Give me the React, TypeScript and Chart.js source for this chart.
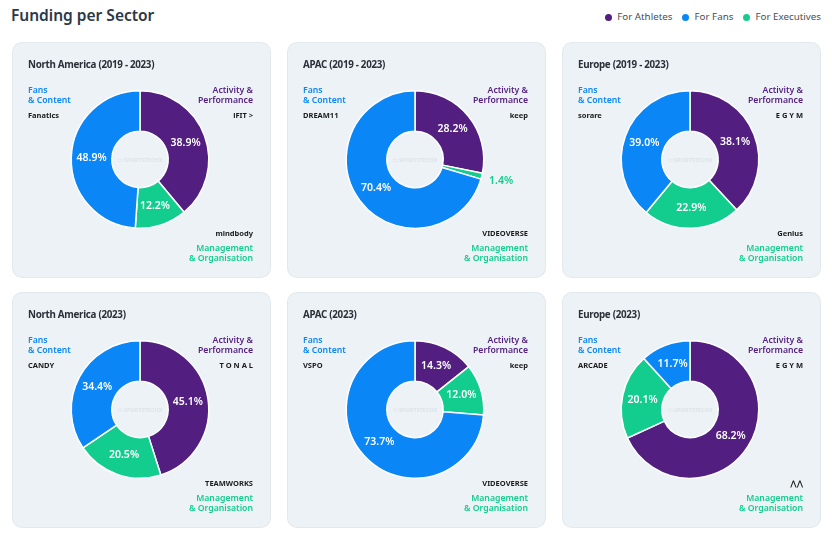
import React, { useEffect, useRef } from "react";
import { Chart, registerables } from "chart.js";

Chart.register(...registerables);

// ---- data ----
const pageTitle = "Funding per Sector";
const legendNames = ["For Athletes", "For Fans", "For Executives"];
const legendColors = ["#521F80", "#0A86F7", "#12CD8E"];

const regionTitles = [
  "North America (2019 - 2023)",
  "APAC (2019 - 2023)",
  "Europe (2019 - 2023)",
  "North America (2023)",
  "APAC (2023)",
  "Europe (2023)",
];
// dataset order (clockwise from top): Athletes, Executives, Fans
const athletesShare = [38.9, 28.2, 38.1, 45.1, 14.3, 68.2];
const executivesShare = [12.2, 1.4, 22.9, 20.5, 12.0, 20.1];
const fansShare = [48.9, 70.4, 39.0, 34.4, 73.7, 11.7];

const fansLogos = ["Fanatics", "DREAM11", "sorare", "CANDY", "VSPO", "ARCADE"];
const athletesLogos = ["iFIT >", "keep", "E G Y M", "T O N A L", "keep", "E G Y M"];
const executivesLogos = ["mindbody", "VIDEOVERSE", "Genius", "TEAMWORKS", "VIDEOVERSE", "⋀⋀"];

const PURPLE = "#521F80";
const BLUE = "#0A86F7";
const GREEN = "#12CD8E";
const CARD_BG = "#EDF2F6";
const FONT = "'Noto Sans', 'DejaVu Sans', sans-serif";

const CARD_W = 257;
const CARD_H = 234;
const colX = [13, 288, 563];
const rowY = [43, 293];

const labelPlugin = {
  id: "sliceLabels",
  afterDatasetsDraw(chart: any) {
    const ctx = chart.ctx;
    const meta = chart.getDatasetMeta(0);
    const data = chart.data.datasets[0].data as number[];
    const colors = chart.data.datasets[0].backgroundColor as string[];
    ctx.save();
    ctx.font = `600 10.5px ${FONT}`;
    ctx.textAlign = "center";
    ctx.textBaseline = "middle";
    meta.data.forEach((arc: any, i: number) => {
      const v = data[i];
      const text = v.toFixed(1) + "%";
      if (v < 5) {
        const p = arc.getProps(["x", "y", "startAngle", "endAngle", "outerRadius"], true);
        const a = (p.startAngle + p.endAngle) / 2;
        const r = p.outerRadius + 20;
        ctx.fillStyle = colors[i];
        ctx.fillText(text, p.x + Math.cos(a) * r, p.y + Math.sin(a) * r);
      } else {
        const pos = arc.tooltipPosition(true);
        ctx.fillStyle = "#ffffff";
        ctx.fillText(text, pos.x, pos.y);
      }
    });
    ctx.restore();
  },
};

function Donut({ idx }: { idx: number }) {
  const ref = useRef<HTMLCanvasElement | null>(null);
  useEffect(() => {
    if (!ref.current) return;
    const chart = new Chart(ref.current, {
      type: "doughnut",
      data: {
        labels: ["For Athletes", "For Executives", "For Fans"],
        datasets: [
          {
            data: [athletesShare[idx], executivesShare[idx], fansShare[idx]],
            backgroundColor: [PURPLE, GREEN, BLUE],
            borderColor: "#ffffff",
            borderWidth: 1.5,
            hoverOffset: 0,
          },
        ],
      },
      options: {
        responsive: false,
        animation: false,
        cutout: "41%",
        layout: { padding: { left: 57.5, right: 60.5, top: 47, bottom: 48 } },
        plugins: { legend: { display: false }, tooltip: { enabled: false } },
      },
      plugins: [labelPlugin],
    });
    return () => chart.destroy();
  }, [idx]);
  return (
    <canvas
      ref={ref}
      width={CARD_W}
      height={CARD_H}
      style={{ position: "absolute", left: 0, top: 0, width: CARD_W, height: CARD_H }}
    />
  );
}

const catStyle: React.CSSProperties = {
  position: "absolute",
  fontFamily: FONT,
  fontSize: 8.7,
  fontWeight: 600,
  lineHeight: "10px",
  whiteSpace: "nowrap",
};

const logoStyle: React.CSSProperties = {
  position: "absolute",
  fontFamily: FONT,
  fontSize: 7.5,
  fontWeight: 700,
  color: "#1b1b1b",
  lineHeight: "10px",
  whiteSpace: "nowrap",
};

function Card({ idx }: { idx: number }) {
  const col = idx % 3;
  const row = Math.floor(idx / 3);
  return (
    <div
      style={{
        position: "absolute",
        left: colX[col],
        top: rowY[row],
        width: CARD_W,
        height: CARD_H,
        background: CARD_BG,
        borderRadius: 9,
        boxShadow: "0 0 0 1px #e1e8ee",
        overflow: "hidden",
      }}
    >
      <Donut idx={idx} />
      <div
        style={{
          position: "absolute",
          left: 15,
          top: 15,
          fontFamily: FONT,
          fontSize: 9.8,
          fontWeight: 700,
          color: "#2a2f38",
          lineHeight: "14px",
          whiteSpace: "nowrap",
          letterSpacing: -0.3,
        }}
      >
        {regionTitles[idx]}
      </div>
      <div style={{ ...catStyle, left: 15, top: 42, color: BLUE }}>
        Fans
        <br />& Content
      </div>
      <div style={{ ...catStyle, right: 17, top: 42, color: PURPLE, textAlign: "right" }}>
        Activity &amp;
        <br />
        Performance
      </div>
      <div style={{ ...catStyle, right: 17, top: 200, color: GREEN, textAlign: "right" }}>
        Management
        <br />& Organisation
      </div>
      <div style={{ ...logoStyle, left: 15, top: 67 }}>{fansLogos[idx]}</div>
      <div style={{ ...logoStyle, right: 17, top: 67, textAlign: "right" }}>{athletesLogos[idx]}</div>
      <div style={{ ...logoStyle, right: 17, top: 185, textAlign: "right" }}>{executivesLogos[idx]}</div>
      <div
        style={{
          position: "absolute",
          left: 127 - 25,
          top: 116.5 - 5,
          width: 50,
          textAlign: "center",
          fontFamily: FONT,
          fontSize: 5.5,
          fontWeight: 700,
          color: "#dce3e9",
          lineHeight: "10px",
        }}
      >
        ⬭ SPORTSTECHX
      </div>
    </div>
  );
}

export default function App() {
  return (
    <div
      style={{
        position: "absolute",
        left: 0,
        top: 0,
        width: 832,
        height: 537,
        background: "#ffffff",
        overflow: "hidden",
      }}
    >
      <div
        style={{
          position: "absolute",
          left: 11,
          top: 4,
          fontFamily: FONT,
          fontSize: 15.5,
          fontWeight: 600,
          color: "#2c3848",
          lineHeight: "22px",
        }}
      >
        {pageTitle}
      </div>
      <div
        style={{
          position: "absolute",
          right: 11,
          top: 10,
          display: "flex",
          gap: 10,
          fontFamily: FONT,
          fontSize: 9.8,
          color: "#4a4f57",
          lineHeight: "14px",
        }}
      >
        {legendNames.map((n, i) => (
          <div key={n} style={{ display: "flex", alignItems: "center", gap: 5 }}>
            <span
              style={{
                width: 7,
                height: 7,
                borderRadius: "50%",
                background: legendColors[i],
                display: "inline-block",
              }}
            />
            {n}
          </div>
        ))}
      </div>
      {regionTitles.map((_, i) => (
        <Card key={i} idx={i} />
      ))}
    </div>
  );
}
